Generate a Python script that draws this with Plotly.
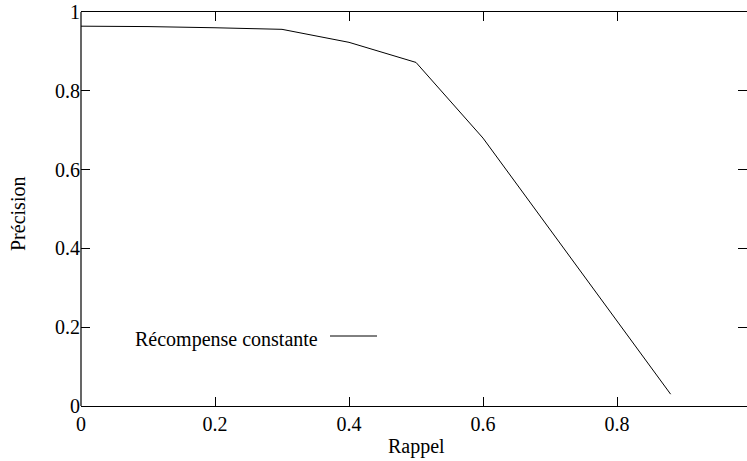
import plotly.graph_objects as go

rappel = [0.0, 0.1, 0.2, 0.3, 0.4, 0.5, 0.6, 0.88]
precision = [0.964, 0.963, 0.960, 0.956, 0.923, 0.872, 0.680, 0.030]
series_name = "Récompense constante"
x_ticks = [0, 0.2, 0.4, 0.6, 0.8]
x_labels = ["0", "0.2", "0.4", "0.6", "0.8"]
y_ticks = [0, 0.2, 0.4, 0.6, 0.8, 1.0]
y_labels = ["0", "0.2", "0.4", "0.6", "0.8", "1"]

W, H = 747, 461
L, T, B, R = 81, 12, 55, 0
pw, ph = W - L - R, H - T - B
FONT = "Liberation Serif, DejaVu Serif, serif"

fig = go.Figure()
fig.add_trace(go.Scatter(x=rappel, y=precision, mode="lines",
                         line=dict(color="black", width=1), name=series_name,
                         showlegend=False))

def px_x(p):
    return (p - L) / pw

def px_y(p):
    return (H - B - p) / ph

fig.update_layout(
    width=W, height=H,
    margin=dict(l=L, r=R, t=T, b=B, pad=0),
    paper_bgcolor="white", plot_bgcolor="white",
    font=dict(family=FONT, size=20, color="black"),
    xaxis=dict(range=[0, 0.994], tickvals=x_ticks, ticktext=x_labels,
               ticks="inside", ticklen=9, tickcolor="black", tickwidth=1,
               showline=True, linecolor="black", linewidth=1.2, mirror="ticks",
               showgrid=False, zeroline=False, fixedrange=True,
               tickfont=dict(family=FONT, size=20)),
    yaxis=dict(range=[0, 1], tickvals=y_ticks, ticktext=y_labels,
               ticks="inside", ticklen=9, tickcolor="black", tickwidth=1,
               showline=False, mirror="ticks",
               showgrid=False, zeroline=False, fixedrange=True,
               tickfont=dict(family=FONT, size=20)),
    shapes=[
        dict(type="line", xref="paper", yref="paper", x0=0, x1=0, y0=0, y1=1,
             line=dict(color="black", width=1.2)),
        dict(type="line", xref="paper", yref="paper",
             x0=px_x(330), x1=px_x(377), y0=px_y(336), y1=px_y(336),
             line=dict(color="black", width=1)),
    ],
    annotations=[
        dict(text=series_name, xref="paper", yref="paper", x=px_x(320), y=px_y(339),
             xanchor="right", yanchor="middle", showarrow=False,
             font=dict(family=FONT, size=20)),
        dict(text="Rappel", xref="paper", yref="paper", x=px_x(416), y=px_y(446),
             xanchor="center", yanchor="middle", showarrow=False,
             font=dict(family=FONT, size=20)),
        dict(text="Précision", xref="paper", yref="paper", x=px_x(18), y=px_y(214),
             xanchor="center", yanchor="middle", showarrow=False, textangle=-90,
             font=dict(family=FONT, size=20)),
    ],
)

fig.write_html("out.html", config={"displayModeBar": False},
               post_script="document.body.style.margin='0';document.body.style.padding='0';")
